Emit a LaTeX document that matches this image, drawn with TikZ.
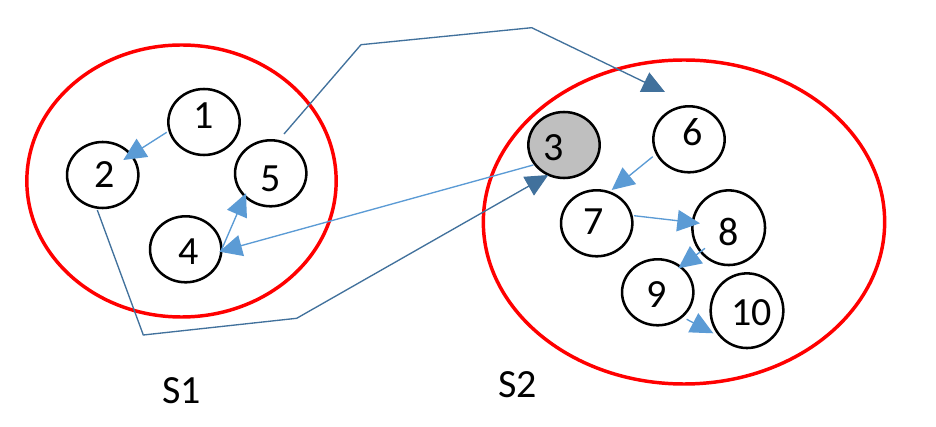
\documentclass[tikz,border=0pt]{standalone}
\usepackage{fontspec}
\setmainfont{Carlito}
\usetikzlibrary{shapes.geometric,arrows.meta,calc}
\definecolor{lblue}{RGB}{91,155,213}
\definecolor{dblue}{RGB}{65,113,156}
\definecolor{ngray}{RGB}{191,191,191}
\begin{document}
\begin{tikzpicture}[x=0.75pt,y=-0.75pt,
  nd/.style={draw=black,line width=1.9pt,ellipse,inner sep=0pt,minimum width=53.5pt,minimum height=49.5pt,fill=white},
  big/.style={minimum width=54.5pt,minimum height=56pt},
  lbl/.style={font=\fontsize{30pt}{30pt}\selectfont,inner sep=0pt},
  grp/.style={draw=red,line width=2.6pt,ellipse,inner sep=0pt},
  la/.style={draw=lblue,line width=1pt,-{Triangle[length=17pt,width=16pt]},fill=lblue},
  da/.style={draw=dblue,line width=1pt,-{Triangle[length=17pt,width=16pt]}},
  da0/.style={draw=dblue,line width=1pt}]
\useasboundingbox (0,0) rectangle (936,427);
\fill[white] (0,0) rectangle (936,427);
% groups
\node[grp,minimum width=232pt,minimum height=204pt] (s1) at (181.5,181) {};
\node[grp,minimum width=301pt,minimum height=243pt] (s2) at (684,222) {};
% nodes
\node[nd,label={[lbl,yshift=4.5pt]center:1}] (n1) at (204,122) {};
\node[nd,label={[lbl,xshift=1.2pt]center:2}] (n2) at (102.7,175) {};
\node[nd,label={[lbl,yshift=-4.5pt]center:5}] (n5) at (270.7,173.3) {};
\node[nd,label={[lbl,xshift=2pt,yshift=-1.8pt]center:4}] (n4) at (185.7,249.3) {};
\node[nd,fill=ngray,label={[lbl,xshift=-8pt,yshift=-1.7pt]center:3}] (n3) at (564,145) {};
\node[nd,label={[lbl,xshift=2.5pt,yshift=5pt]center:6}] (n6) at (689,139.3) {};
\node[nd,label={[lbl,xshift=-2.5pt,yshift=1.2pt]center:7}] (n7) at (596.7,223.3) {};
\node[nd,big,label={[lbl,xshift=-0.3pt,yshift=-3pt]center:8}] (n8) at (728.7,227.7) {};
\node[nd,label={[lbl,xshift=-0.8pt,yshift=-2pt]center:9}] (n9) at (657.7,292.3) {};
\node[nd,big,label={[lbl,xshift=3.5pt,yshift=-1.2pt]center:10}] (n10) at (747,310.7) {};
% group labels
\node[lbl] (l1) at (181.7,391) {S1};
\node[lbl] (l2) at (517.5,385) {S2};
% helper coordinates
\coordinate (a1) at (143.3,335);
\coordinate (a2) at (296.7,318.3);
\coordinate (b1) at (361,44.7);
\coordinate (b2) at (531.7,27.7);
\coordinate (t6) at (665,92);
% connectors
\draw[la] ($(n1)+(-37.3,10.3)$) -- ($(n2)+(20.6,-15)$);
\draw[la] ($(n3)+(-30.7,20)$) -- ($(n4)+(33.6,2.4)$);
\draw[la] ($(n4)+(35,2.4)$) -- ($(n5)+(-24.7,20)$);
\draw[da] ($(n2)+(-5.4,35)$) -- (a1) -- (a2) -- ($(n3)+(-15.7,30)$);
\draw[da] ($(n5)+(13.3,-39.3)$) -- (b1) -- (b2) -- (t6);
\draw[la] ($(n6)+(-36.3,17.4)$) -- ($(n7)+(15,-33.3)$);
\draw[la] ($(n7)+(37.3,-7.6)$) -- ($(n8)+(-28.7,-4.4)$);
\draw[la] ($(n8)+(-23.7,20.6)$) -- ($(n9)+(20.6,-24)$);
\draw[la] ($(n9)+(29,27)$) -- ($(n10)+(-33.7,22.6)$);
\end{tikzpicture}
\end{document}
